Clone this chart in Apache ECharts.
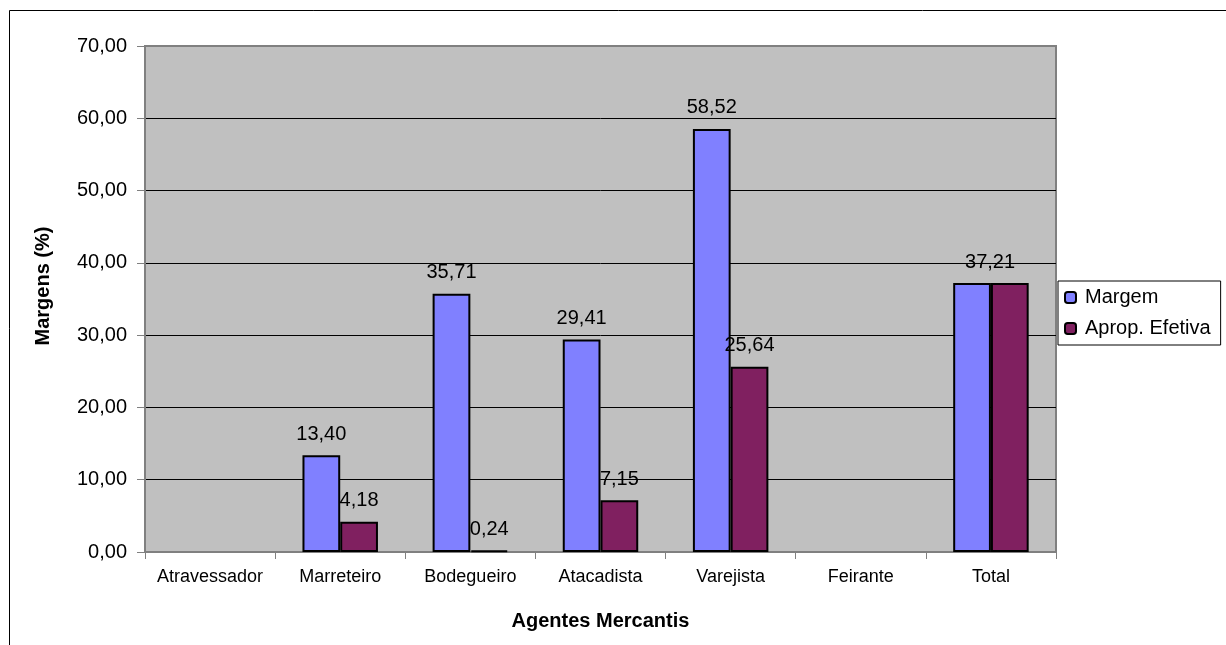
<!DOCTYPE html>
<html>
<head>
<meta charset="utf-8">
<script src="https://cdn.jsdelivr.net/npm/echarts@6/dist/echarts.min.js"></script>
<style>
  html, body { margin: 0; padding: 0; background: #fff; }
  #chart { width: 1226px; height: 645px; }
</style>
</head>
<body>
<div id="chart"></div>
<script>
// Margens de comercialização por agente mercantil
const categories = ['Atravessador', 'Marreteiro', 'Bodegueiro', 'Atacadista', 'Varejista', 'Feirante', 'Total'];
const margem = [null, 13.40, 35.71, 29.41, 58.52, null, 37.21];
const apropEfetiva = [null, 4.18, 0.24, 7.15, 25.64, null, 37.21];
const yTicks = [0, 10, 20, 30, 40, 50, 60, 70];

const fmt = v => Number(v).toFixed(2).replace('.', ',');
const FONT = 'Liberation Sans, Arial, sans-serif';

const chart = echarts.init(document.getElementById('chart'), null, { renderer: 'canvas' });

function seriesData(values, hideLast) {
  return values.map((v, i) => {
    if (v === null) return '-';
    if (hideLast && i === values.length - 1) return { value: v, label: { show: false } };
    return v;
  });
}

const margemData = seriesData(margem, false);
// the Total label sits over the middle of its pair
margemData[6] = { value: margem[6], label: { offset: [18, 0] } };

chart.setOption({
  animation: false,
  textStyle: { fontFamily: FONT },
  graphic: [{
    type: 'rect',
    shape: { x: 9.5, y: 10.5, width: 1400, height: 800 },
    style: { fill: 'none', stroke: '#000', lineWidth: 1 },
    silent: true,
    z: -10
  }],
  grid: {
    left: 145, right: 170, top: 46, bottom: 93,
    show: true,
    backgroundColor: '#C0C0C0',
    borderColor: '#808080',
    borderWidth: 2
  },
  legend: {
    orient: 'vertical',
    left: 1058, top: 281,
    backgroundColor: '#fff',
    borderColor: '#000',
    borderWidth: 1,
    padding: [5, 10, 5, 6],
    itemGap: 8,
    itemWidth: 11,
    itemHeight: 11,
    textStyle: { fontFamily: FONT, fontSize: 20, lineHeight: 23, height: 23, color: '#000', padding: [0, 0, 0, 4] },
    data: ['Margem', 'Aprop. Efetiva']
  },
  xAxis: {
    type: 'category',
    data: categories,
    name: 'Agentes Mercantis',
    nameLocation: 'middle',
    nameGap: 59,
    nameTextStyle: { fontFamily: FONT, fontSize: 20, fontWeight: 'bold', color: '#000' },
    axisLine: { lineStyle: { color: '#808080', width: 2 } },
    axisTick: { show: true, length: 7, lineStyle: { color: '#808080', width: 1 } },
    axisLabel: { fontFamily: FONT, fontSize: 18, color: '#000', margin: 16, interval: 0 }
  },
  yAxis: {
    type: 'value',
    min: 0, max: 70, interval: 10,
    name: 'Margens (%)',
    nameLocation: 'middle',
    nameGap: 92,
    nameTextStyle: { fontFamily: FONT, fontSize: 20, fontWeight: 'bold', color: '#000', padding: [0, 0, 0, 26] },
    axisLine: { show: true, lineStyle: { color: '#808080', width: 2 } },
    axisTick: { show: true, length: 8, lineStyle: { color: '#808080', width: 1 } },
    axisLabel: {
      fontFamily: FONT, fontSize: 20, color: '#000', margin: 18,
      formatter: v => yTicks.includes(v) ? fmt(v) : ''
    },
    splitLine: {
      show: true,
      lineStyle: { color: ['#000', '#000', '#000', '#000', '#000', '#000', '#000', '#808080'], width: 1 }
    }
  },
  series: [
    {
      name: 'Margem',
      type: 'bar',
      data: margemData,
      barGap: '0%',
      barCategoryGap: '42%',
      itemStyle: { color: '#8080FF', borderColor: '#000', borderWidth: 2 },
      label: {
        show: true, position: 'top', distance: 11,
        fontFamily: FONT, fontSize: 20, color: '#000',
        formatter: p => fmt(p.value)
      }
    },
    {
      name: 'Aprop. Efetiva',
      type: 'bar',
      data: seriesData(apropEfetiva, true),
      barGap: '0%',
      barCategoryGap: '42%',
      itemStyle: { color: '#802060', borderColor: '#000', borderWidth: 2 },
      label: {
        show: true, position: 'top', distance: 11,
        fontFamily: FONT, fontSize: 20, color: '#000',
        formatter: p => fmt(p.value)
      }
    }
  ]
});
</script>
</body>
</html>
